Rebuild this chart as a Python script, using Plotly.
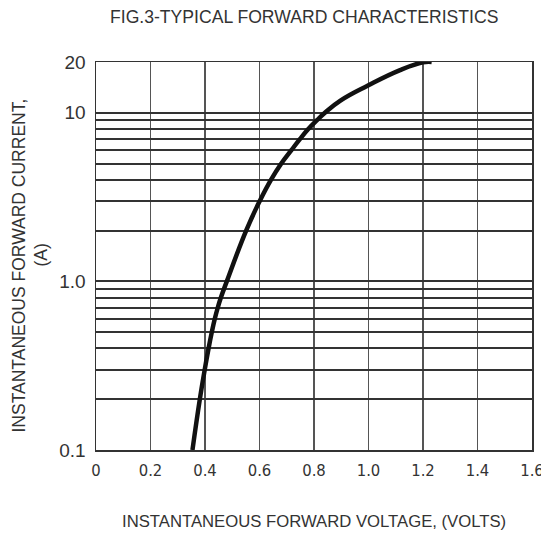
import plotly.graph_objects as go

# Forward characteristic curve
voltage = [0.354, 0.381, 0.399, 0.413, 0.425, 0.436, 0.447, 0.458, 0.480,
           0.551, 0.601, 0.642, 0.680, 0.717, 0.749, 0.779, 0.810, 0.840,
           0.897, 0.998, 1.116, 1.200, 1.232]
current = [0.1, 0.2, 0.3, 0.4, 0.5, 0.6, 0.7, 0.8, 1.0,
           2, 3, 4, 5, 6, 7, 8, 9, 10,
           11.8, 14.5, 17.9, 19.9, 20]

x_ticks = [0, 0.2, 0.4, 0.6, 0.8, 1.0, 1.2, 1.4, 1.6]
x_labels = ["0", "0.2", "0.4", "0.6", "0.8", "1.0", "1.2", "1.4", "1.6"]
y_grid = [0.1, 0.2, 0.3, 0.4, 0.5, 0.6, 0.7, 0.8, 0.9,
          1, 2, 3, 4, 5, 6, 7, 8, 9, 10, 20]
y_label_map = {0.1: "0.1", 1: "1.0", 10: "10", 20: "20"}
y_labels = [y_label_map.get(v, "") for v in y_grid]

title_text = "FIG.3-TYPICAL FORWARD CHARACTERISTICS"
x_title = "INSTANTANEOUS FORWARD VOLTAGE, (VOLTS)"
y_title_1 = "INSTANTANEOUS FORWARD CURRENT,"
y_title_2 = "(A)"

W, H = 541, 533
L, R, T, B = 96, 9, 62, 83
PW, PH = W - L - R, H - T - B


def px(xp):
    return (xp - L) / PW


def py(yp):
    return (H - B - yp) / PH


fig = go.Figure()
fig.add_trace(go.Scatter(
    x=voltage, y=current, mode="lines",
    line=dict(color="#111111", width=4.5, shape="spline", smoothing=1.3),
    showlegend=False, hoverinfo="skip", cliponaxis=False,
))

fig.update_layout(
    width=W, height=H,
    margin=dict(l=L, r=R, t=T, b=B, autoexpand=False),
    paper_bgcolor="white", plot_bgcolor="white",
    font=dict(family="Liberation Sans, Arial, sans-serif", color="#333333"),
    showlegend=False,
)

fig.update_xaxes(
    range=[0, 1.6], tickmode="array", tickvals=x_ticks, ticktext=x_labels,
    showgrid=True, gridcolor="#555555", gridwidth=1.5,
    showline=True, linecolor="#333333", linewidth=1.5, mirror=True,
    zeroline=False, ticks="", ticklabelstandoff=5, automargin=False,
    ticklabeloverflow="allow",
    tickfont=dict(family="Liberation Sans Narrow, DejaVu Sans Condensed, sans-serif",
                  size=16.5, color="#333333"),
)
fig.update_yaxes(
    type="log", range=[-1, 1.30103], tickmode="array",
    tickvals=y_grid, ticktext=y_labels,
    showgrid=True, gridcolor="#333333", gridwidth=2,
    showline=True, linecolor="#333333", linewidth=1.5, mirror=True,
    zeroline=False, ticks="", ticklabelstandoff=5, automargin=False,
    ticklabeloverflow="allow",
    tickfont=dict(family="Liberation Sans, Arial, sans-serif", size=19, color="#333333"),
)

fig.add_annotation(text=title_text, xref="paper", yref="paper",
                   x=px(303.5), y=py(17.5), showarrow=False,
                   font=dict(size=17.6, color="#333333"),
                   xanchor="center", yanchor="middle")
fig.add_annotation(text=x_title, xref="paper", yref="paper",
                   x=px(313.5), y=py(521), showarrow=False,
                   font=dict(size=16.7, color="#333333"),
                   xanchor="center", yanchor="middle")
fig.add_annotation(text=y_title_1, xref="paper", yref="paper",
                   x=px(18.5), y=py(266), showarrow=False, textangle=-90,
                   font=dict(size=17.5, color="#333333"),
                   xanchor="center", yanchor="middle")
fig.add_annotation(text=y_title_2, xref="paper", yref="paper",
                   x=px(40.5), y=py(255), showarrow=False, textangle=-90,
                   font=dict(size=17.5, color="#333333"),
                   xanchor="center", yanchor="middle")

fig.write_html(
    "out.html",
    config={"displayModeBar": False, "staticPlot": True},
    post_script="document.body.style.margin='0';document.body.style.overflow='hidden';",
)
